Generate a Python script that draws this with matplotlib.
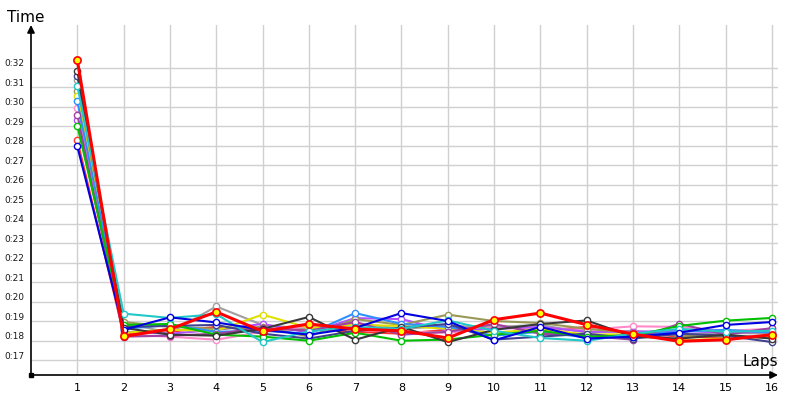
import numpy as np
import matplotlib
matplotlib.use('Agg')
import matplotlib.pyplot as plt
import matplotlib.transforms as mtransforms

# lap numbers and lap times (seconds) for every driver
laps = list(range(1, 17))
ytick_secs = list(range(17, 33))
ytick_labels = ['0:%02d' % s for s in ytick_secs]

tomato = [28.28, 18.35, 18.45, 18.70, 18.55, 18.60, 18.45, 18.35, 18.55, 18.75, 18.50, 18.70, 18.40, 18.20, 18.15, 18.25]
gray = [31.36, 18.90, 18.40, 19.75, 18.80, 18.60, 18.90, 18.60, 18.75, 18.70, 18.80, 18.40, 18.50, 18.30, 18.40, 18.35]
pink = [29.94, 18.30, 18.20, 18.04, 18.45, 18.75, 18.55, 18.45, 18.40, 18.65, 18.60, 18.55, 18.73, 18.70, 18.50, 18.60]
violet = [29.34, 18.45, 18.35, 18.55, 18.85, 18.40, 19.15, 19.10, 18.50, 18.60, 18.70, 18.45, 18.45, 18.50, 18.40, 18.45]
olive = [30.80, 18.95, 18.70, 18.60, 18.70, 18.20, 19.10, 18.80, 19.33, 19.00, 18.90, 18.60, 18.40, 18.25, 18.20, 18.15]
yellow = [30.54, 18.40, 18.55, 18.50, 19.33, 18.65, 18.80, 18.75, 18.60, 18.40, 18.60, 18.30, 18.33, 18.00, 18.10, 18.20]
dodger = [30.28, 18.60, 18.80, 18.45, 18.50, 18.35, 19.41, 18.85, 18.70, 18.25, 18.45, 18.15, 18.30, 18.45, 18.55, 18.40]
purple = [29.60, 18.20, 18.25, 18.35, 18.65, 18.50, 18.95, 18.30, 18.45, 18.85, 18.35, 18.25, 18.04, 18.86, 18.30, 18.64]
navy = [31.57, 18.70, 18.75, 18.80, 18.35, 18.10, 18.50, 18.65, 18.85, 18.05, 18.20, 18.35, 18.10, 18.35, 18.25, 17.92]
green = [29.04, 18.80, 18.85, 18.30, 18.20, 17.99, 18.40, 17.99, 18.05, 18.30, 18.50, 18.20, 18.25, 18.75, 19.02, 19.16]
black = [31.82, 18.65, 18.30, 18.25, 18.60, 19.21, 18.04, 18.70, 17.92, 18.55, 18.85, 19.03, 18.20, 18.10, 18.30, 18.10]
cyan = [31.09, 19.38, 19.16, 19.35, 17.92, 18.47, 18.70, 18.60, 19.03, 18.50, 18.13, 17.99, 18.35, 18.60, 18.45, 18.50]
blue = [27.97, 18.55, 19.19, 18.93, 18.55, 18.30, 18.65, 19.41, 19.00, 18.01, 18.70, 18.10, 18.20, 18.40, 18.80, 18.95]
red = [32.39, 18.21, 18.59, 19.47, 18.47, 18.85, 18.59, 18.50, 18.13, 19.07, 19.41, 18.81, 18.33, 17.96, 18.04, 18.30]

series = [
    (tomato, '#FF3030'),
    (gray, '#A0A0A0'),
    (pink, '#FF88C8'),
    (violet, '#B050FF'),
    (olive, '#999955'),
    (yellow, '#E0E000'),
    (dodger, '#2E8FFF'),
    (purple, '#A040A0'),
    (navy, '#404090'),
    (green, '#00C000'),
    (black, '#383838'),
    (cyan, '#20C8C8'),
    (blue, '#0000E0'),
]

fig = plt.figure(figsize=(8, 4), dpi=100)
ax = fig.add_axes([31 / 800, 25 / 400, 747 / 800, 350 / 400])
ax.set_xlim(0, 16.13)
ax.set_ylim(16.23, 34.2)

for vals, col in series:
    ax.plot(laps, vals, color=col, lw=1.5, marker='o', ms=4.5,
            mfc='white', mec=col, mew=1.0, zorder=3)
ax.plot(laps, red, color='#FF0000', lw=2.2, marker='o', ms=5.2,
        mfc='#FFFF00', mec='#FF0000', mew=1.2, zorder=4)

# grid and axes
ax.set_xticks(laps)
ax.set_yticks(ytick_secs)
ax.grid(True, color='#D0D0D0', lw=1.0, zorder=0)
ax.tick_params(axis='both', length=0)
ax.tick_params(axis='x', pad=6, labelsize=8)
ax.set_yticklabels([])
for s in ['top', 'right', 'left', 'bottom']:
    ax.spines[s].set_visible(False)

ax.annotate('', xy=(0, 1), xytext=(0, 0), xycoords='axes fraction',
            arrowprops=dict(arrowstyle='-|>', color='black', lw=1.2,
                            mutation_scale=11, shrinkA=0, shrinkB=0))
ax.annotate('', xy=(1, 0), xytext=(0, 0), xycoords='axes fraction',
            arrowprops=dict(arrowstyle='-|>', color='black', lw=1.2,
                            mutation_scale=11, shrinkA=0, shrinkB=0))
ax.plot(0, 0, 's', color='black', ms=3, transform=ax.transAxes, clip_on=False)

# y labels sit a bit above their grid lines, left aligned at the figure edge
trans = mtransforms.blended_transform_factory(fig.transFigure, ax.transData)
for s, lab in zip(ytick_secs, ytick_labels):
    ax.text(4 / 800, s + 0.2, lab, transform=trans, fontsize=6.5,
            color='#1a1a1a', ha='left', va='center')

fig.text(7 / 800, 1 - 22 / 400, 'Time', fontsize=11, va='baseline', ha='left')
fig.text(743 / 800, 1 - 366 / 400, 'Laps', fontsize=11, va='baseline', ha='left')

fig.savefig('out.png', dpi=100)
